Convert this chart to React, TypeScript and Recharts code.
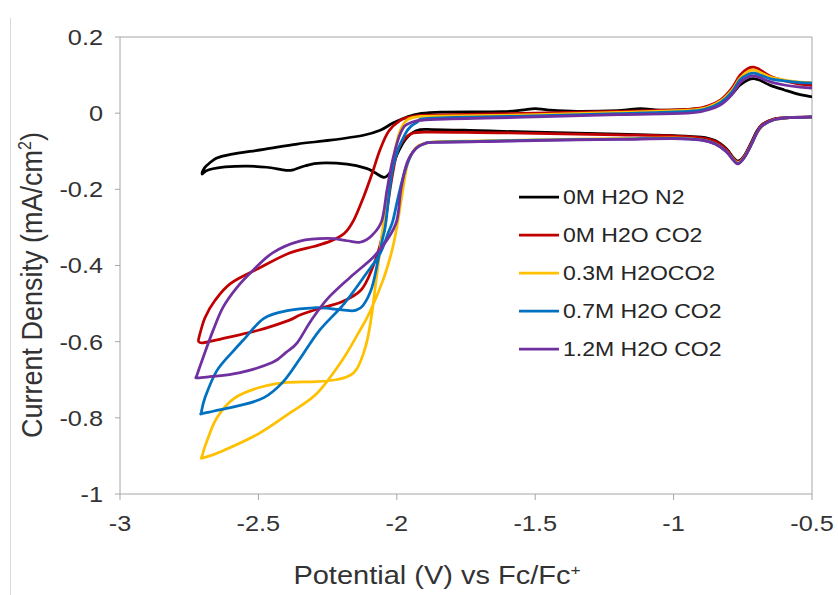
// Cyclic voltammograms of the catalyst under N2 / CO2 with added water
import React from 'react'
import { LineChart, Line, XAxis, YAxis, ReferenceLine, Legend } from 'recharts'

const FONT = '"Liberation Sans", Arial, sans-serif'
const TEXT = '#333333'
const AXIS = '#a6a6a6'

const seriesNames = ['0M H2O N2', '0M H2O CO2', '0.3M H2OCO2', '0.7M H2O CO2', '1.2M H2O CO2']
const seriesColors = ['#000000', '#C00000', '#FFC000', '#0070C0', '#7030A0']

const xTicks = [-3, -2.5, -2, -1.5, -1, -0.5]
const yTicks = [-1, -0.8, -0.6, -0.4, -0.2, 0, 0.2]

// [potential V, current density mA/cm2], cathodic sweep then return sweep
const n2Scan = [
    [-0.50, -0.010], [-0.58, -0.011], [-0.64, -0.016], [-0.68, -0.030], [-0.70, -0.048], [-0.72, -0.078],
    [-0.745, -0.112], [-0.767, -0.126], [-0.785, -0.116], [-0.81, -0.093], [-0.85, -0.072], [-0.90, -0.063],
    [-1.00, -0.059], [-1.20, -0.055], [-1.50, -0.050], [-1.70, -0.046], [-1.87, -0.043], [-1.93, -0.046],
    [-1.97, -0.070], [-2.00, -0.110], [-2.02, -0.150], [-2.035, -0.165], [-2.05, -0.168], [-2.08, -0.156],
    [-2.11, -0.145], [-2.18, -0.134], [-2.277, -0.131], [-2.33, -0.138], [-2.37, -0.148], [-2.40, -0.150],
    [-2.47, -0.142], [-2.54, -0.139], [-2.62, -0.141], [-2.665, -0.146], [-2.69, -0.152], [-2.703, -0.160],
    [-2.70, -0.150], [-2.686, -0.137], [-2.65, -0.118], [-2.60, -0.108], [-2.48, -0.095], [-2.36, -0.081],
    [-2.24, -0.071], [-2.12, -0.058], [-2.06, -0.045], [-2.014, -0.026], [-1.963, -0.010], [-1.916, -0.001],
    [-1.84, 0.003], [-1.62, 0.004], [-1.55, 0.008], [-1.50, 0.012], [-1.45, 0.008], [-1.35, 0.005],
    [-1.20, 0.007], [-1.12, 0.012], [-1.05, 0.008], [-0.95, 0.009], [-0.88, 0.015], [-0.83, 0.028],
    [-0.79, 0.050], [-0.76, 0.074], [-0.73, 0.088], [-0.71, 0.091], [-0.69, 0.087], [-0.65, 0.073],
    [-0.60, 0.061], [-0.55, 0.050], [-0.50, 0.043],
]

const co2DryScan = [
    [-0.50, -0.010], [-0.58, -0.011], [-0.64, -0.016], [-0.68, -0.030], [-0.70, -0.050], [-0.72, -0.080],
    [-0.745, -0.113], [-0.767, -0.128], [-0.785, -0.118], [-0.81, -0.095], [-0.85, -0.074], [-0.90, -0.065],
    [-1.00, -0.060], [-1.20, -0.057], [-1.50, -0.053], [-1.70, -0.051], [-1.90, -0.050], [-1.95, -0.055],
    [-1.98, -0.075], [-2.00, -0.105], [-2.02, -0.180], [-2.04, -0.275], [-2.06, -0.345], [-2.09, -0.410],
    [-2.13, -0.465], [-2.20, -0.496], [-2.28, -0.513], [-2.35, -0.530], [-2.39, -0.544], [-2.50, -0.570],
    [-2.63, -0.592], [-2.70, -0.603], [-2.715, -0.600],
    [-2.715, -0.590], [-2.693, -0.537], [-2.657, -0.492], [-2.60, -0.447], [-2.50, -0.408], [-2.39, -0.368],
    [-2.30, -0.350], [-2.24, -0.336], [-2.19, -0.316], [-2.155, -0.280], [-2.12, -0.220], [-2.09, -0.160],
    [-2.06, -0.095], [-2.03, -0.048], [-1.99, -0.020], [-1.95, -0.010], [-1.88, -0.005], [-1.50, 0.000],
    [-1.20, 0.005], [-0.95, 0.010], [-0.88, 0.018], [-0.83, 0.035], [-0.79, 0.065], [-0.76, 0.100],
    [-0.73, 0.118], [-0.71, 0.121], [-0.69, 0.115], [-0.65, 0.097], [-0.60, 0.085], [-0.55, 0.077],
    [-0.50, 0.073],
]

const water03Scan = [
    [-0.50, -0.010], [-0.58, -0.012], [-0.64, -0.018], [-0.68, -0.034], [-0.70, -0.054], [-0.72, -0.084],
    [-0.745, -0.116], [-0.767, -0.130], [-0.785, -0.121], [-0.81, -0.100], [-0.85, -0.080], [-0.90, -0.070],
    [-1.00, -0.065], [-1.20, -0.067], [-1.50, -0.070], [-1.70, -0.073], [-1.85, -0.075], [-1.90, -0.080],
    [-1.93, -0.090], [-1.96, -0.130], [-1.98, -0.210], [-2.00, -0.300], [-2.02, -0.368], [-2.05, -0.439],
    [-2.10, -0.526], [-2.14, -0.579], [-2.20, -0.652], [-2.29, -0.737], [-2.39, -0.789], [-2.50, -0.842],
    [-2.63, -0.887], [-2.70, -0.905],
    [-2.703, -0.900], [-2.686, -0.861], [-2.65, -0.800], [-2.59, -0.750], [-2.50, -0.721], [-2.41, -0.708],
    [-2.29, -0.705], [-2.22, -0.700], [-2.17, -0.689], [-2.144, -0.671], [-2.12, -0.630], [-2.105, -0.590],
    [-2.09, -0.526], [-2.078, -0.458], [-2.062, -0.368], [-2.05, -0.300], [-2.03, -0.200], [-2.01, -0.110],
    [-1.99, -0.050], [-1.963, -0.018], [-1.92, -0.009], [-1.87, -0.008], [-1.50, -0.004], [-1.20, 0.002],
    [-0.95, 0.008], [-0.88, 0.015], [-0.83, 0.032], [-0.79, 0.060], [-0.76, 0.092], [-0.73, 0.110],
    [-0.71, 0.113], [-0.69, 0.108], [-0.65, 0.095], [-0.60, 0.087], [-0.55, 0.082], [-0.50, 0.080],
]

const water07Scan = [
    [-0.50, -0.010], [-0.58, -0.012], [-0.64, -0.018], [-0.68, -0.033], [-0.70, -0.053], [-0.72, -0.084],
    [-0.745, -0.117], [-0.767, -0.132], [-0.785, -0.122], [-0.81, -0.100], [-0.85, -0.080], [-0.90, -0.070],
    [-1.00, -0.066], [-1.20, -0.068], [-1.50, -0.071], [-1.70, -0.074], [-1.86, -0.076], [-1.90, -0.080],
    [-1.94, -0.100], [-1.97, -0.150], [-1.995, -0.220], [-2.014, -0.282], [-2.032, -0.316], [-2.06, -0.368],
    [-2.11, -0.421], [-2.19, -0.500], [-2.28, -0.571], [-2.35, -0.645], [-2.41, -0.705], [-2.48, -0.747],
    [-2.57, -0.768], [-2.66, -0.782], [-2.704, -0.789],
    [-2.706, -0.785], [-2.693, -0.747], [-2.65, -0.676], [-2.59, -0.624], [-2.556, -0.597], [-2.48, -0.539],
    [-2.39, -0.518], [-2.30, -0.511], [-2.24, -0.513], [-2.18, -0.518], [-2.15, -0.518], [-2.122, -0.505],
    [-2.09, -0.458], [-2.068, -0.387], [-2.05, -0.326], [-2.04, -0.290], [-2.014, -0.142], [-1.97, -0.055],
    [-1.927, -0.024], [-1.87, -0.013], [-1.50, -0.007], [-1.20, -0.001], [-0.95, 0.005], [-0.88, 0.012],
    [-0.83, 0.028], [-0.79, 0.055], [-0.76, 0.088], [-0.73, 0.102], [-0.71, 0.105], [-0.69, 0.101],
    [-0.65, 0.090], [-0.60, 0.085], [-0.55, 0.081], [-0.50, 0.079],
]

const water12Scan = [
    [-0.50, -0.010], [-0.58, -0.012], [-0.64, -0.018], [-0.68, -0.033], [-0.70, -0.053], [-0.72, -0.084],
    [-0.745, -0.117], [-0.767, -0.133], [-0.785, -0.123], [-0.81, -0.101], [-0.85, -0.081], [-0.90, -0.071],
    [-1.00, -0.067], [-1.20, -0.069], [-1.50, -0.072], [-1.70, -0.075], [-1.87, -0.077], [-1.90, -0.080],
    [-1.93, -0.092], [-1.963, -0.130], [-1.985, -0.200], [-2.00, -0.282], [-2.036, -0.334], [-2.086, -0.379],
    [-2.17, -0.432], [-2.25, -0.487], [-2.31, -0.545], [-2.36, -0.603], [-2.40, -0.628], [-2.45, -0.655],
    [-2.57, -0.682], [-2.675, -0.692], [-2.722, -0.695],
    [-2.722, -0.688], [-2.70, -0.642], [-2.664, -0.571], [-2.628, -0.510], [-2.578, -0.458], [-2.52, -0.413],
    [-2.447, -0.366], [-2.35, -0.336], [-2.25, -0.329], [-2.18, -0.335], [-2.133, -0.339], [-2.09, -0.321],
    [-2.054, -0.282], [-2.035, -0.200], [-2.014, -0.120], [-1.985, -0.050], [-1.95, -0.025], [-1.855, -0.016],
    [-1.50, -0.010], [-1.20, -0.004], [-0.95, 0.000], [-0.88, 0.008], [-0.83, 0.022], [-0.79, 0.048],
    [-0.76, 0.080], [-0.73, 0.095], [-0.71, 0.098], [-0.69, 0.094], [-0.65, 0.082], [-0.60, 0.074],
    [-0.55, 0.069], [-0.50, 0.066],
]

const scans = [n2Scan, co2DryScan, water03Scan, water07Scan, water12Scan]

// Excel-like smoothed line (Catmull-Rom through every point, works for loops)
const smoothCurve = (context: any) => {
    let pts: number[][] = []
    return {
        areaStart() {},
        areaEnd() {},
        lineStart() { pts = [] },
        point(x: number, y: number) { pts.push([+x, +y]) },
        lineEnd() {
            const n = pts.length
            if (!n) return
            context.moveTo(pts[0][0], pts[0][1])
            for (let i = 0; i < n - 1; i++) {
                const p0 = pts[Math.max(i - 1, 0)]
                const p1 = pts[i]
                const p2 = pts[i + 1]
                const p3 = pts[Math.min(i + 2, n - 1)]
                context.bezierCurveTo(
                    p1[0] + (p2[0] - p0[0]) / 6, p1[1] + (p2[1] - p0[1]) / 6,
                    p2[0] - (p3[0] - p1[0]) / 6, p2[1] - (p3[1] - p1[1]) / 6,
                    p2[0], p2[1]
                )
            }
        },
    }
}

const YTick = ({ x, y, payload }: any) => (
    <g transform={`translate(${x - 12},${y})`}>
        <text transform="scale(1.15,1)" textAnchor="end" dy="0.36em" fontSize={22} fill={TEXT} fontFamily={FONT}>
            {payload.value}
        </text>
    </g>
)

const XTick = ({ x, y, payload }: any) => (
    <g transform={`translate(${x},${y + 23})`}>
        <text transform="scale(1.15,1)" textAnchor="middle" dy="0.36em" fontSize={22} fill={TEXT} fontFamily={FONT}>
            {payload.value}
        </text>
    </g>
)

const XTitle = () => (
    <g transform="translate(437,575) scale(1.16,1)">
        <text textAnchor="middle" dy="0.36em" fontSize={25} fill={TEXT} fontFamily={FONT}>
            Potential (V) vs Fc/Fc<tspan dy={-9} fontSize={15}>+</tspan>
        </text>
    </g>
)

const YTitle = () => (
    <g transform="translate(31,285) rotate(-90) scale(1,1.1)">
        <text textAnchor="middle" dy="0.36em" fontSize={27} fill={TEXT} fontFamily={FONT}>
            Current Density (mA/cm<tspan dy={-10} fontSize={16}>2</tspan><tspan dy={10}>)</tspan>
        </text>
    </g>
)

const LegendBox = () => (
    <div style={{ fontFamily: FONT }}>
        {seriesNames.map((name, i) => (
            <div key={name} style={{ display: 'flex', alignItems: 'center', height: 38 }}>
                <svg width={44} height={6}>
                    <line x1={0} y1={3} x2={40} y2={3} stroke={seriesColors[i]} strokeWidth={2.75} />
                </svg>
                <span style={{ fontSize: 20, color: '#262626', display: 'inline-block', transform: 'scaleX(1.15)', transformOrigin: 'left center', whiteSpace: 'nowrap' }}>
                    {name}
                </span>
            </div>
        ))}
    </div>
)

export default function App() {
    return (
        <div style={{ position: 'absolute', left: 0, top: 0, width: 838, height: 595, background: '#fff' }}>
            <div style={{ position: 'absolute', left: 10, top: 18, width: 1, height: 577, background: '#d9d9d9' }} />
            <LineChart width={838} height={595} margin={{ top: 37, right: 26, bottom: 0, left: 0 }}>
                <XAxis
                    type="number"
                    dataKey="x"
                    domain={[-3, -0.5]}
                    ticks={xTicks}
                    allowDataOverflow
                    height={101}
                    stroke={AXIS}
                    tickSize={6}
                    tickMargin={0}
                    tick={<XTick />}
                    label={<XTitle />}
                />
                <YAxis
                    type="number"
                    domain={[-1, 0.2]}
                    ticks={yTicks}
                    allowDataOverflow
                    width={120}
                    stroke={AXIS}
                    tickSize={5}
                    tickMargin={0}
                    tick={<YTick />}
                    label={<YTitle />}
                />
                <ReferenceLine y={0.2} stroke={AXIS} />
                <ReferenceLine x={-0.5} stroke={AXIS} />
                {scans.map((scan, i) => (
                    <Line
                        key={seriesNames[i]}
                        name={seriesNames[i]}
                        data={scan.map(([x, y]) => ({ x, y }))}
                        dataKey="y"
                        type={smoothCurve as any}
                        stroke={seriesColors[i]}
                        strokeWidth={2.75}
                        dot={false}
                        activeDot={false}
                        isAnimationActive={false}
                    />
                ))}
                <Legend
                    layout="horizontal"
                    align="center"
                    verticalAlign="middle"
                    wrapperStyle={{ left: 519, top: 178, width: 220 }}
                    content={() => <LegendBox />}
                />
            </LineChart>
        </div>
    )
}
